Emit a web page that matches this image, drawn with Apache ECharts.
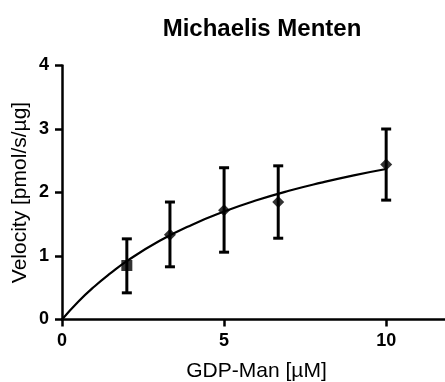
<!DOCTYPE html>
<html>
<head>
<meta charset="utf-8">
<script src="https://cdn.jsdelivr.net/npm/echarts@6/dist/echarts.min.js"></script>
<style>html,body{margin:0;padding:0;background:#fff}#c{width:445px;height:382px}</style>
</head>
<body>
<div id="c"></div>
<script>
const concentrations = [2, 3.33, 5, 6.67, 10];
const velocities = [0.85, 1.335, 1.72, 1.85, 2.44];
const errLow = [0.42, 0.83, 1.06, 1.28, 1.88];
const errHigh = [1.27, 1.85, 2.39, 2.42, 3.0];
const markerShapes = ['rect', 'diamond', 'diamond', 'diamond', 'diamond'];
const fitX = [0, 0.5, 1, 1.5, 2, 3, 4, 5, 6, 7, 8, 9, 10];
const fitY = [0, 0.28, 0.52, 0.73, 0.92, 1.235, 1.49, 1.70, 1.877, 2.027, 2.155, 2.27, 2.37];
const xTicks = [0, 5, 10];
const yTicks = [0, 1, 2, 3, 4];

const chart = echarts.init(document.getElementById('c'));
const font = 'Liberation Sans, Arial, sans-serif';
chart.setOption({
  animation: false,
  title: {
    text: 'Michaelis Menten', left: 257, top: 12, textAlign: 'center',
    textStyle: { fontFamily: font, fontWeight: 'bold', fontSize: 24, color: '#000' }
  },
  grid: { left: 62, top: 65.5, width: 389, height: 254, containLabel: false, outerBoundsMode: 'none' },
  xAxis: {
    type: 'value', min: 0, max: 12, interval: 5,
    name: 'GDP-Man [µM]', nameLocation: 'middle', nameGap: 40, nameMoveOverlap: false,
    nameTextStyle: { fontFamily: font, fontSize: 21, color: '#000', lineHeight: 24 },
    axisLine: { lineStyle: { color: '#000', width: 2.5 } },
    axisTick: { show: true, length: 7, lineStyle: { color: '#000', width: 2.5 }, customValues: xTicks },
    axisLabel: { fontFamily: font, fontWeight: 'bold', fontSize: 18, color: '#000', margin: 13, customValues: xTicks },
    splitLine: { show: false }
  },
  yAxis: {
    type: 'value', min: 0, max: 4, interval: 1,
    name: 'Velocity [pmol/s/µg]', nameLocation: 'middle', nameGap: 30, nameRotate: 90, nameMoveOverlap: false,
    nameTextStyle: { fontFamily: font, fontSize: 21, color: '#000', lineHeight: 24 },
    axisLine: { show: true, lineStyle: { color: '#000', width: 2.5 } },
    axisTick: { show: true, length: 7, lineStyle: { color: '#000', width: 2.5 }, customValues: yTicks },
    axisLabel: { fontFamily: font, fontWeight: 'bold', fontSize: 18, color: '#000', margin: 13, customValues: yTicks },
    splitLine: { show: false }
  },
  series: [
    {
      type: 'line', data: fitX.map((x, i) => [x, fitY[i]]), smooth: true,
      showSymbol: false, lineStyle: { color: '#000', width: 2.2 }, z: 2
    },
    {
      type: 'custom',
      data: concentrations.map((x, i) => [x, errLow[i], errHigh[i]]),
      renderItem: function (params, api) {
        const lo = api.coord([api.value(0), api.value(1)]);
        const hi = api.coord([api.value(0), api.value(2)]);
        const w = 5;
        const st = { stroke: '#000', lineWidth: 3 };
        return {
          type: 'group', children: [
            { type: 'line', shape: { x1: lo[0], y1: lo[1], x2: hi[0], y2: hi[1] }, style: st },
            { type: 'line', shape: { x1: lo[0] - w, y1: lo[1], x2: lo[0] + w, y2: lo[1] }, style: st },
            { type: 'line', shape: { x1: hi[0] - w, y1: hi[1], x2: hi[0] + w, y2: hi[1] }, style: st }
          ]
        };
      },
      z: 3
    },
    {
      type: 'scatter',
      data: concentrations.map((x, i) => ({ value: [x, velocities[i]], symbol: markerShapes[i], symbolSize: markerShapes[i] === 'rect' ? 11 : 12 })),
      itemStyle: { color: '#000' }, z: 4
    }
  ]
});
</script>
</body>
</html>
